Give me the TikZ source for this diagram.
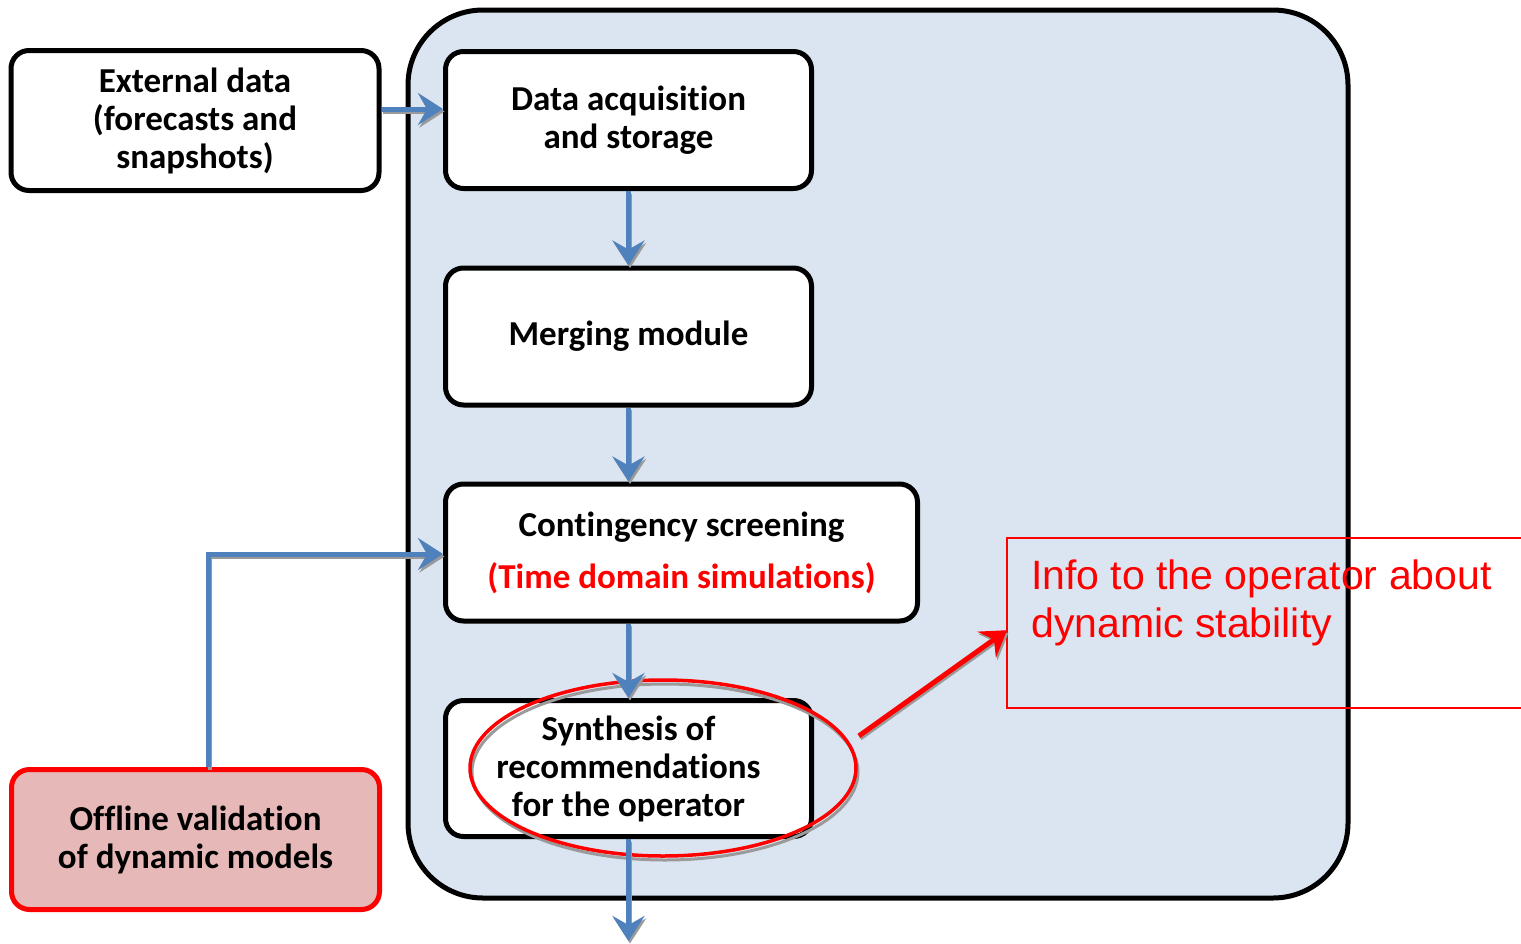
\documentclass[tikz,border=0pt]{standalone}
\usepackage{fontspec}
\setmainfont{Carlito}[Ligatures=NoCommon]
\newfontfamily\arialfont{Liberation Sans}
\usetikzlibrary{arrows.meta,shapes.geometric}
\definecolor{flowblue}{HTML}{4F81BD}
\definecolor{panelblue}{HTML}{DBE5F1}
\definecolor{offpink}{HTML}{E6B9B8}
\definecolor{shadowgray}{HTML}{9A9A9A}
\tikzset{
  stepbox/.style={draw, line width=5, rounded corners=18, fill=white,
    minimum width=366, minimum height=137, align=center, inner sep=0,
    font=\bfseries\fontsize{35}{38}\selectfont},
  flow/.style={draw=flowblue, line width=5,
    -{Stealth[length=25pt,width=32pt,inset=9pt]},
    preaction={draw=shadowgray, line width=4,
      transform canvas={shift={(1.5pt,-2.5pt)}}}},
  redflow/.style={draw=red, line width=5,
    -{Stealth[length=25pt,width=32pt,inset=9pt]},
    preaction={draw=shadowgray, line width=4,
      transform canvas={shift={(1.5pt,-2.5pt)}}}},
}
\begin{document}
\begin{tikzpicture}[x=1pt,y=-1pt]
\useasboundingbox (0,0) rectangle (1521,943);

% online platform container
\draw[line width=5, fill=panelblue, rounded corners=75] (408,10) rectangle (1348,898);

% processing chain
\node[stepbox, minimum width=368, minimum height=140] (ext) at (195,120.5) {External data\\(forecasts and\\snapshots)};
\node[stepbox] (acq) at (628.5,120) {Data acquisition\\and storage};
\node[stepbox] (merge) at (628.5,336.5) {Merging module};
\node[stepbox, minimum width=472] (cont) at (681.5,552.5)
  {Contingency screening\\[14pt]{\color{red}(Time domain simulations)}};
\node[stepbox, minimum height=136] (synth) at (628.5,768.5)
  {Synthesis of\\recommendations\\for the operator};
\node[stepbox, draw=red, fill=offpink, minimum width=368, minimum height=140] (offline) at (195.5,839.5)
  {Offline validation\\of dynamic models};

% highlight ring round the synthesis step
\node[ellipse, draw=shadowgray, line width=3, minimum width=386, minimum height=176]
  (ringshadow) at (665,772) {};
\node[ellipse, draw=red, line width=3.5, minimum width=386, minimum height=176]
  (ring) at (663,768) {};

% operator information panel
\draw[red, line width=1.5] (1530,538) -- (1007,538) -- (1007,708) -- (1530,708);
\node[minimum width=523, minimum height=170, inner sep=0, anchor=north west]
  (info) at (1007,538) {};
\node[anchor=north west, align=left, inner sep=0, text=red,
  font=\arialfont\fontsize{41}{48}\selectfont] (infotext) at (1031,560)
  {Info to the operator about\\dynamic stability};

% connectors
\coordinate (feed) at (0,109);
\coordinate (bend) at (208,554);
\coordinate (out) at (628.5,941);
\draw[flow] (ext.east |- feed) -- (acq.west |- feed);
\draw[flow] (acq.south) -- (merge.north);
\draw[flow] (merge.south) -- (merge.south |- cont.north);
\draw[flow] (synth.north |- cont.south) -- (synth.north);
\draw[flow] (synth.south) -- (out);
\draw[flow] (offline.north -| bend) -- (bend) -- (bend -| cont.west);
\draw[redflow] ([xshift=14pt]ring.10) -- ([yshift=-7pt]info.west);
\end{tikzpicture}
\end{document}
